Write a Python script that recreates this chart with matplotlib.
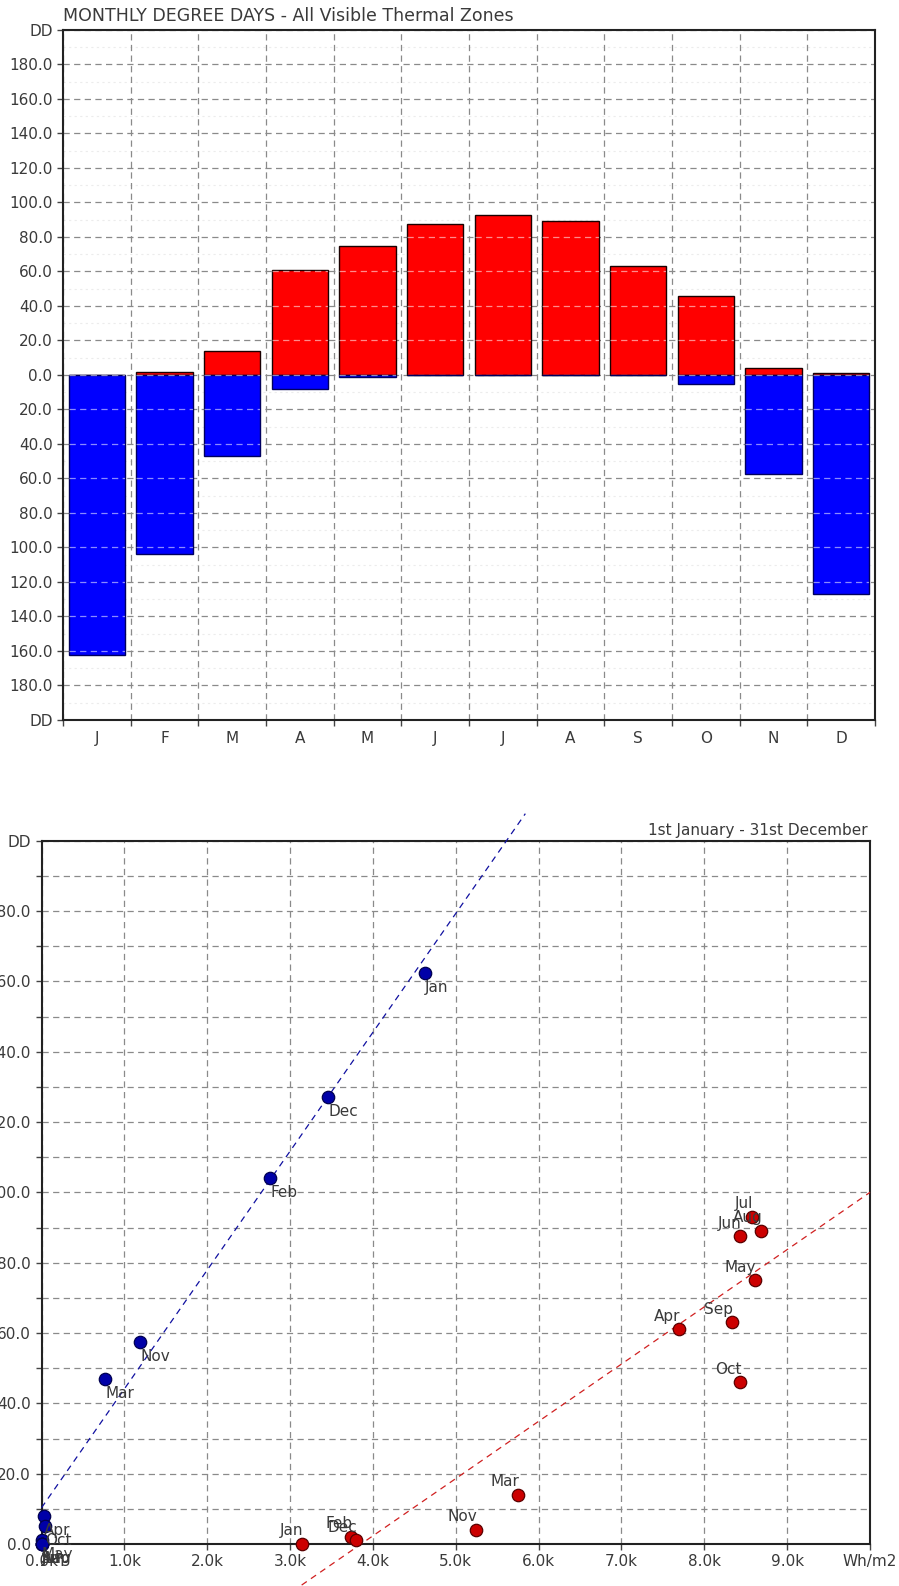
import matplotlib
matplotlib.use('Agg')
import matplotlib.pyplot as plt
import numpy as np

plt.rcParams['font.family'] = ['DejaVu Sans']

# monthly degree days (cooling positive, heating shown below zero)
months = ['Jan', 'Feb', 'Mar', 'Apr', 'May', 'Jun', 'Jul', 'Aug', 'Sep', 'Oct', 'Nov', 'Dec']
month_initials = ['J', 'F', 'M', 'A', 'M', 'J', 'J', 'A', 'S', 'O', 'N', 'D']
cooling_dd = [0, 2, 14, 61, 75, 87.5, 93, 89, 63, 46, 4, 1]
heating_dd = [162.5, 104, 47, 8, 1, 0, 0, 0, 0, 5, 57.5, 127]

# scatter x values (Wh/m2)
cooling_x = [3140, 3740, 5750, 7690, 8610, 8430, 8576, 8690, 8330, 8430, 5240, 3800]
heating_x = [4630, 2760, 770, 25, 5, 0, 0, 0, 0, 45, 1190, 3460]

# trend lines: (slope, intercept, x start, x end)
heating_trend = (0.0338, 10.3, 0, 5840)
cooling_trend = (0.01628, -62.8, 3140, 10000)

grid_kw = dict(color='#8a8a8a', linewidth=0.9, linestyle=(0, (5, 3.5)))
txt_col = '#3a3a3a'
fs = 11

fig = plt.figure(figsize=(8.99, 15.86), dpi=100, facecolor='white')

# ---------------- top: monthly bars ----------------
ax0 = fig.add_axes([63/899, 1-720/1586, 812/899, 690/1586])
xpos = np.arange(len(months))
cool_bars = ax0.bar(xpos, cooling_dd, width=0.83, color='#ff0000', edgecolor='#1a0000', linewidth=1.0, zorder=2)
heat_bars = ax0.bar(xpos, [-v for v in heating_dd], width=0.83, color='#0000ff', edgecolor='#000060', linewidth=1.0, zorder=2)

ax0.set_xlim(-0.5, 11.5)
ax0.set_ylim(-200, 200)
ax0.set_axisbelow(True)
ax0.set_xticks(np.arange(-0.5, 12, 1))
ax0.set_xticklabels([])
ax0.set_xticks(xpos, minor=True)
ax0.set_xticklabels(month_initials, minor=True)
yt = np.arange(-200, 201, 20)
ax0.set_yticks(yt)
ax0.set_yticklabels(['DD' if abs(v) == 200 else '%.1f' % abs(v) for v in yt])
ax0.tick_params(axis='both', which='major', direction='out', length=4, width=1, color='#444',
                labelsize=fs, labelcolor=txt_col)
ax0.tick_params(axis='x', which='minor', length=0, pad=8, labelsize=fs, labelcolor=txt_col)
ax0.grid(True, which='major', **grid_kw)
for yv in np.arange(-190, 200, 20):
    ax0.axhline(yv, color='#ececec', linewidth=0.8, linestyle=(0, (2, 3)), zorder=0)

# lighter grid dashes showing through the bars
levels = [v for v in yt if abs(v) < 200]
for b in list(cool_bars) + list(heat_bars):
    if b.get_height() == 0:
        continue
    lc = ax0.hlines(levels, b.get_x(), b.get_x() + b.get_width(), colors='white', alpha=0.55,
                    linewidth=0.9, linestyles=[(0, (5, 3.5))], zorder=3)
    lc.set_clip_path(b)

for s in ax0.spines.values():
    s.set_color('#222')
    s.set_linewidth(1.5)

fig.text(63/899, 1-16/1586, 'MONTHLY DEGREE DAYS - All Visible Thermal Zones',
         ha='left', va='center', fontsize=12.5, color=txt_col)

# ---------------- bottom: degree days vs radiation ----------------
ax1 = fig.add_axes([41.5/899, 1-1544/1586, 828.5/899, 703.3/1586])
ax1.set_xlim(0, 10000)
ax1.set_ylim(0, 200)
ax1.set_axisbelow(True)
xt = np.arange(0, 10001, 1000)
ax1.set_xticks(xt)
ax1.set_xticklabels(['Wh/m2' if v == 10000 else '%.1fk' % (v / 1000) for v in xt])
yt1 = np.arange(0, 201, 10)
ax1.set_yticks(yt1)
ax1.set_yticklabels(['DD' if v == 200 else ('%.1f' % v if v % 20 == 0 else '') for v in yt1])
ax1.tick_params(axis='both', direction='out', length=4, width=1, color='#444',
                labelsize=fs, labelcolor=txt_col)
ax1.grid(True, **grid_kw)
for s in ax1.spines.values():
    s.set_color('#222')
    s.set_linewidth(1.5)

# trend lines (run past the frame like the original)
for (m, c, x0, x1), col in [(heating_trend, '#1010a0'), (cooling_trend, '#d02020')]:
    xs = np.array([x0, x1])
    ax1.plot(xs, m * xs + c, color=col, linewidth=0.9, linestyle=(0, (5, 4)), clip_on=False, zorder=3)

ax1.scatter(cooling_x, cooling_dd, s=80, color='#cc0000', edgecolors='#5a0000', linewidths=0.9,
            zorder=4, clip_on=False)
ax1.scatter(heating_x, heating_dd, s=80, color='#0000a8', edgecolors='#000050', linewidths=0.9,
            zorder=4, clip_on=False)

for name, x, y in zip(months, cooling_x, cooling_dd):
    ax1.annotate(name, (x, y), xytext=(1, 4), textcoords='offset points', ha='right', va='bottom',
                 fontsize=fs, color=txt_col, zorder=5, annotation_clip=False)
for name, x, y in zip(months, heating_x, heating_dd):
    ax1.annotate(name, (x, y), xytext=(0, -5), textcoords='offset points', ha='left', va='top',
                 fontsize=fs, color=txt_col, zorder=5, annotation_clip=False)

fig.text(868/899, 1-830/1586, '1st January - 31st December', ha='right', va='center',
         fontsize=fs, color=txt_col)

fig.savefig('out.png', dpi=100, facecolor='white')
